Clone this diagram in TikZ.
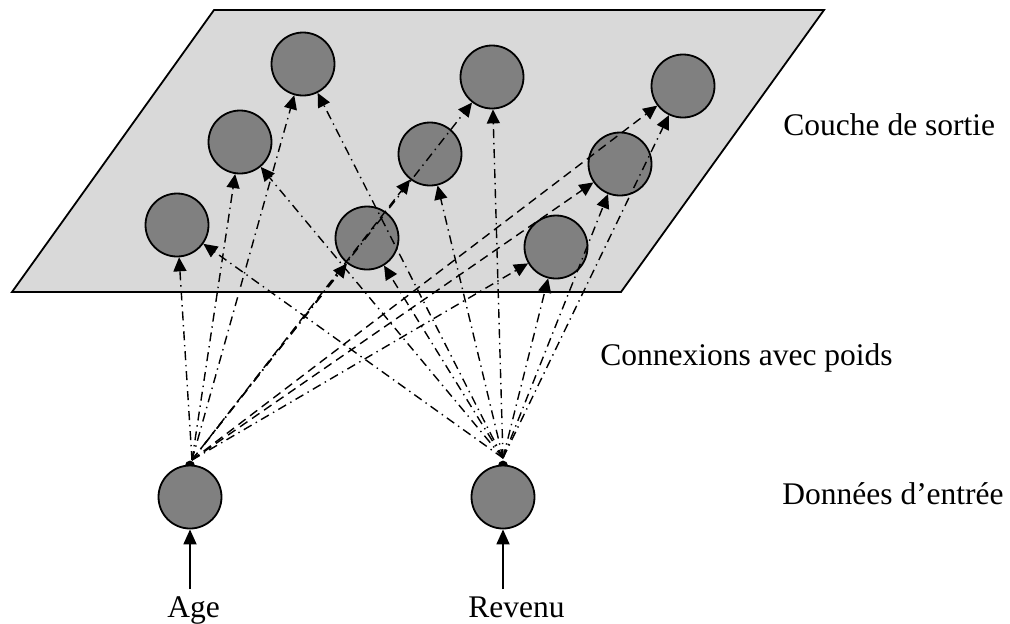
\documentclass[tikz,border=0pt]{standalone}
\usepackage{fontspec}
\setmainfont{Liberation Serif}
\usetikzlibrary{arrows.meta}
\definecolor{planegray}{RGB}{217,217,217}
\definecolor{neurongray}{RGB}{128,128,128}
\begin{document}
\begin{tikzpicture}[x=0.5pt,y=-0.5pt,
  neuron/.style={circle,draw,line width=0.9pt,fill=neurongray,minimum size=31.5pt,inner sep=0pt},
  lbl/.style={anchor=base west,inner sep=0pt,font=\fontsize{15.75}{19}\selectfont},
  tip/.style={-{Triangle[length=7pt,width=6.5pt]}},
  dashdot/.style={tip,line width=0.7pt,dash pattern=on 4.5pt off 2.4pt on 0.7pt off 2.4pt},
  dashes/.style={tip,line width=0.7pt,dash pattern=on 4.5pt off 2.8pt},
  inarrow/.style={line width=0.9pt,-{Triangle[length=7.5pt,width=6.5pt]}}]
\useasboundingbox (0,0) rectangle (1010,623);
% output plane
\draw[fill=planegray,line width=0.9pt] (214,10) -- (824,10) -- (621,292) -- (12,292) -- cycle;
% output neurons
\node[neuron] (o11) at (303,64) {};
\node[neuron] (o12) at (492,77) {};
\node[neuron] (o13) at (683,86) {};
\node[neuron] (o21) at (240,142) {};
\node[neuron] (o22) at (430,154) {};
\node[neuron] (o23) at (620,164) {};
\node[neuron] (o31) at (177,225) {};
\node[neuron] (o32) at (367,238) {};
\node[neuron] (o33) at (556,247) {};
% input neurons
\node[neuron] (age) at (190,497) {};
\node[neuron] (rev) at (503,497) {};
\coordinate (ageTop) at (192,460);
\coordinate (revTop) at (503,458);
% small caps on top of the inputs
\fill[shift={(age.north)}] (-5,1) arc[start angle=180,end angle=360,radius=5] -- cycle;
\fill[shift={(rev.north)}] (-5,1) arc[start angle=180,end angle=360,radius=5] -- cycle;
% connections from Age
\draw[dashdot] (ageTop) -- (o31);
\draw[dashdot] (ageTop) -- (o21);
\draw[dashdot] (ageTop) -- (o11);
\draw[dashdot] (ageTop) -- (o32);
\draw[dashes]  (ageTop) -- (o22);
\draw[dashdot] (ageTop) -- (o12);
\draw[dashdot] (ageTop) -- (o33);
\draw[dashes]  (ageTop) -- (o23);
\draw[dashes]  (ageTop) -- (o13);
% connections from Revenu
\draw[dashdot] (revTop) -- (o31);
\draw[dashdot] (revTop) -- (o21);
\draw[dashdot] (revTop) -- (o11);
\draw[dashdot] (revTop) -- (o32);
\draw[dashdot] (revTop) -- (o22);
\draw[dashdot] (revTop) -- (o12);
\draw[dashdot] (revTop) -- (o33);
\draw[dashdot] (revTop) -- (o23);
\draw[dashdot] (revTop) -- (o13);
% inputs
\node[lbl] (agelbl) at (167,617) {Age};
\node[lbl] (revlbl) at (468,617) {Revenu};
\coordinate (ageIn) at (190,589);
\coordinate (revIn) at (503,589);
\draw[inarrow] (ageIn) -- (age);
\draw[inarrow] (revIn) -- (rev);
% labels
\node[lbl] (l1) at (783,135) {Couche de sortie};
\node[lbl] (l2) at (600,365) {Connexions avec poids};
\node[lbl] (l3) at (782,504) {Données d’entrée};
\end{tikzpicture}
\end{document}
